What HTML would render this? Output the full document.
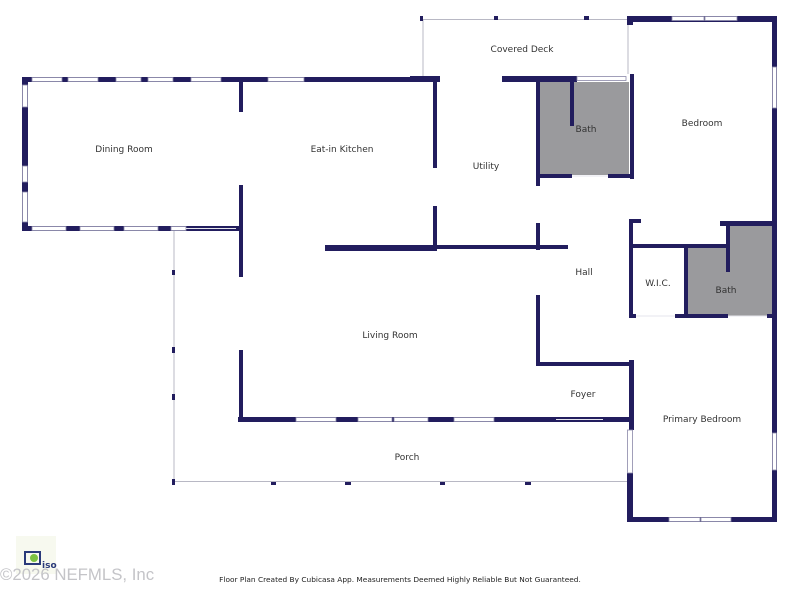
<!DOCTYPE html>
<html><head><meta charset="utf-8"><style>
html,body{margin:0;padding:0;background:#fff;width:800px;height:600px;overflow:hidden}
svg{display:block}
text{font-family:"DejaVu Sans","Liberation Sans",sans-serif;font-size:9px;fill:#333}
</style></head><body>
<svg width="800" height="600" viewBox="0 0 800 600" xmlns="http://www.w3.org/2000/svg">
<g fill="#9a9a9d">
<rect x="540" y="82" width="89" height="93"/>
<rect x="726" y="224" width="46" height="24"/>
<rect x="687" y="248" width="85" height="68"/>
</g>
<g stroke="#b8b8c4" stroke-width="1" fill="none">
<line x1="423" y1="19" x2="423" y2="77"/>
<line x1="421" y1="19.5" x2="627" y2="19.5"/>
<line x1="174" y1="231" x2="174" y2="483"/>
<line x1="174" y1="481.5" x2="629" y2="481.5"/>
<line x1="628" y1="25" x2="628" y2="74"/>
</g>
<g fill="#221d5e">
<rect x="22" y="77" width="418" height="5"/>
<rect x="22" y="77" width="6" height="154"/>
<rect x="22" y="226" width="218" height="5"/>
<rect x="239" y="81" width="4" height="31"/>
<rect x="239" y="185" width="4" height="92"/>
<rect x="239" y="350" width="4" height="72"/>
<rect x="238" y="417" width="392" height="5"/>
<rect x="433" y="81" width="4" height="87"/>
<rect x="433" y="206" width="4" height="44"/>
<rect x="325" y="245" width="112" height="6"/>
<rect x="437" y="245" width="131" height="4"/>
<rect x="420" y="16" width="3" height="5"/><rect x="494" y="16" width="4" height="4"/><rect x="584" y="16" width="5" height="4"/>
<rect x="410" y="76" width="30" height="6"/>
<rect x="502" y="76" width="75" height="6"/>
<rect x="536" y="76" width="4" height="110"/>
<rect x="536" y="223" width="4" height="27"/>
<rect x="570" y="82" width="4" height="44"/>
<rect x="536" y="174" width="36" height="4"/>
<rect x="608" y="174" width="22" height="4"/>
<rect x="627" y="16" width="150" height="6"/>
<rect x="627" y="16" width="6" height="9"/>
<rect x="630" y="74" width="4" height="105"/>
<rect x="772" y="16" width="5" height="506"/>
<rect x="629" y="219" width="4" height="99"/>
<rect x="633" y="219" width="8" height="4"/>
<rect x="629" y="244" width="97" height="4"/>
<rect x="720" y="221" width="57" height="5"/>
<rect x="726" y="221" width="4" height="51"/>
<rect x="684" y="244" width="4" height="74"/>
<rect x="629" y="314" width="7" height="4"/>
<rect x="675" y="314" width="53" height="4"/>
<rect x="767" y="314" width="10" height="4"/>
<rect x="536" y="295" width="4" height="71"/>
<rect x="536" y="362" width="94" height="4"/>
<rect x="629" y="360" width="5" height="70"/>
<rect x="627" y="473" width="6" height="49"/>
<rect x="627" y="517" width="150" height="5"/>
<rect x="172" y="270" width="3" height="5"/><rect x="172" y="347" width="3" height="6"/><rect x="172" y="394" width="3" height="6"/><rect x="172" y="479" width="3" height="6"/>
<rect x="271" y="482" width="5" height="3"/><rect x="345" y="482" width="6" height="3"/><rect x="440" y="482" width="5" height="3"/><rect x="525" y="482" width="6" height="3"/>
</g>
<g fill="#fff" stroke="#8a88a8" stroke-width="0.8">
<rect x="32" y="77.5" width="30" height="4"/><rect x="68" y="77.5" width="30" height="4"/><rect x="116" y="77.5" width="25" height="4"/><rect x="148" y="77.5" width="25" height="4"/><rect x="191" y="77.5" width="30" height="4"/><rect x="268" y="77.5" width="36" height="4"/>
<rect x="22.5" y="85" width="5" height="22"/><rect x="22.5" y="166" width="5" height="16"/><rect x="22.5" y="192" width="5" height="30"/>
<rect x="32" y="226.5" width="34" height="4"/><rect x="80" y="226.5" width="34" height="4"/><rect x="124" y="226.5" width="34" height="4"/><rect x="171" y="226.5" width="15" height="4"/>
<rect x="296" y="417.5" width="40" height="4"/><rect x="358" y="417.5" width="34" height="4"/><rect x="394" y="417.5" width="34" height="4"/><rect x="454" y="417.5" width="40" height="4"/>
<rect x="577" y="76.5" width="49" height="4"/>
<rect x="672" y="16.5" width="32" height="4"/><rect x="705" y="16.5" width="32" height="4"/>
<rect x="772.5" y="67" width="4" height="41"/>
<rect x="772.5" y="433" width="4" height="37"/>
<rect x="627.5" y="430" width="5" height="43"/>
<rect x="669" y="517.5" width="31" height="4"/><rect x="701" y="517.5" width="30" height="4"/>
</g>
<g stroke="#e6e6ec" stroke-width="1">
<line x1="186" y1="228.5" x2="236" y2="228.5"/><line x1="556" y1="419.5" x2="603" y2="419.5"/>
<line x1="572" y1="176" x2="608" y2="176"/><line x1="636" y1="316" x2="675" y2="316"/><line x1="728" y1="316" x2="767" y2="316"/>
</g>
<text x="124" y="152" text-anchor="middle">Dining Room</text>
<text x="342" y="152" text-anchor="middle">Eat-in Kitchen</text>
<text x="522" y="52" text-anchor="middle">Covered Deck</text>
<text x="486" y="169" text-anchor="middle">Utility</text>
<text x="586" y="132" text-anchor="middle">Bath</text>
<text x="702" y="126" text-anchor="middle">Bedroom</text>
<text x="584" y="275" text-anchor="middle">Hall</text>
<text x="658" y="286" text-anchor="middle">W.I.C.</text>
<text x="726" y="293" text-anchor="middle">Bath</text>
<text x="390" y="338" text-anchor="middle">Living Room</text>
<text x="583" y="397" text-anchor="middle">Foyer</text>
<text x="702" y="422" text-anchor="middle">Primary Bedroom</text>
<text x="407" y="460" text-anchor="middle">Porch</text>
<text x="400" y="582" text-anchor="middle" style="font-size:7.4px;fill:#222">Floor Plan Created By Cubicasa App. Measurements Deemed Highly Reliable But Not Guaranteed.</text>
<rect x="16" y="536" width="40" height="38" fill="#f7f9ef"/>
<rect x="25" y="552" width="15" height="12" fill="none" stroke="#2a3a7a" stroke-width="2"/>
<circle cx="34" cy="558" r="4" fill="#7cc242"/>
<text x="42" y="568" style="font-size:9px;fill:#2a3a7a;font-weight:bold">iso</text>
<text x="0" y="580" style="font-size:16.8px;fill:#c4c4c8;font-family:'Liberation Sans',sans-serif">©2026 NEFMLS, Inc</text>
</svg>
</body></html>
